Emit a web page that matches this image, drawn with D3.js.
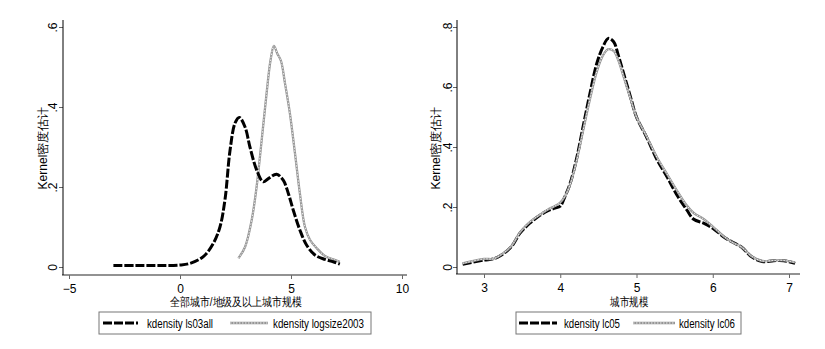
<!DOCTYPE html>
<html><head><meta charset="utf-8">
<script src="https://cdn.jsdelivr.net/npm/d3@7"></script>
<style>body{margin:0;background:#fff}svg{display:block}text{font-family:"Liberation Sans",Arial,sans-serif;fill:#000}</style>
</head><body>
<svg id="c" width="825" height="349"></svg>
<script>
// Left panel data
const leftX_ls03all = [-3.0,-2.0,-1.0,0.0,0.45,1.05,1.5,1.8,2.03,2.25,2.48,2.67,2.93,3.15,3.45,3.75,3.98,4.35,4.65,4.88,5.1,5.4,5.7,6.08,6.53,6.9,7.2];
const leftY_ls03all = [0.004,0.004,0.004,0.005,0.009,0.026,0.059,0.10,0.17,0.29,0.36,0.374,0.35,0.30,0.243,0.213,0.221,0.232,0.217,0.184,0.1425,0.0925,0.055,0.03,0.019,0.013,0.007];
const leftX_logsize2003 = [2.63,2.93,3.23,3.45,3.68,3.9,4.08,4.23,4.38,4.55,4.73,4.95,5.18,5.4,5.63,5.86,6.16,6.53,6.9,7.2];
const leftY_logsize2003 = [0.022,0.05,0.1175,0.2,0.3175,0.434,0.5175,0.553,0.534,0.515,0.459,0.384,0.284,0.184,0.10,0.0675,0.047,0.0275,0.019,0.013];
const leftXTicks = [-5,0,5,10];
const leftYTicks = [0,0.2,0.4,0.6];
const leftYTickLabels = ["0",".2",".4",".6"];
const leftLegend = ["kdensity ls03all","kdensity logsize2003"];
const leftXTitle = "全部城市/地级及以上城市规模";

// Right panel data
const rightX = [2.72,3.0,3.12,3.23,3.36,3.47,3.6,3.72,3.84,3.93,4.0,4.06,4.13,4.22,4.3,4.39,4.48,4.56,4.63,4.7,4.76,4.83,4.92,5.0,5.13,5.27,5.4,5.53,5.66,5.75,5.88,6.0,6.14,6.25,6.38,6.51,6.65,6.8,6.93,7.08];
const rightY_lc05 = [0.009,0.023,0.027,0.04,0.068,0.112,0.146,0.17,0.188,0.196,0.203,0.234,0.279,0.368,0.468,0.579,0.679,0.734,0.762,0.751,0.707,0.646,0.568,0.5,0.434,0.357,0.301,0.24,0.19,0.159,0.146,0.129,0.101,0.084,0.066,0.034,0.018,0.021,0.021,0.012];
const rightY_lc06 = [0.012,0.027,0.027,0.042,0.07,0.115,0.15,0.172,0.192,0.203,0.215,0.235,0.275,0.36,0.455,0.56,0.652,0.705,0.726,0.72,0.69,0.635,0.562,0.5,0.437,0.365,0.31,0.255,0.205,0.18,0.16,0.135,0.103,0.083,0.066,0.036,0.02,0.022,0.022,0.015];
const rightXTicks = [3,4,5,6,7];
const rightYTicks = [0,0.2,0.4,0.6,0.8];
const rightYTickLabels = ["0",".2",".4",".6",".8"];
const rightLegend = ["kdensity lc05","kdensity lc06"];
const rightXTitle = "城市规模";
const yTitle = "Kernel密度估计";

const svg = d3.select("#c");

function drawSeries(g, x, y, xs, ys, kind){
  const line = d3.line().x((d,i)=>x(xs[i])).y(d=>y(d)).curve(d3.curveCatmullRom.alpha(0.5));
  drawPath(g, line(ys), kind);
}
function drawPath(g, d, kind){
  if(kind==="black"){
    g.append("path").attr("d",d).attr("fill","none").attr("stroke","#000").attr("stroke-width",3).attr("stroke-dasharray","9,2");
  } else {
    g.append("path").attr("d",d).attr("fill","none").attr("stroke","#959595").attr("stroke-width",2.3);
    g.append("path").attr("d",d).attr("fill","none").attr("stroke","#ececec").attr("stroke-width",1).attr("stroke-dasharray","1.5,1.5");
  }
}

function panel(o){
  const g = svg.append("g");
  const x = d3.scaleLinear().domain(o.xDom).range(o.xRange);
  const y = d3.scaleLinear().domain(o.yDom).range([267,27]);
  // axes
  const xa = g.append("g").attr("transform",`translate(0,${o.xAxisY})`)
    .call(d3.axisBottom(x).tickValues(o.xTicks).tickSize(4).tickSizeOuter(0).tickFormat(d3.format("d")));
  xa.select(".domain").remove();
  xa.selectAll(".tick line").attr("stroke","#666");
  xa.selectAll(".tick text").attr("font-size",12).attr("dy","0.9em").attr("font-family","Liberation Sans, Arial, sans-serif");
  g.append("line").attr("x1",o.axisX-1).attr("x2",o.xEnd).attr("y1",o.xAxisY).attr("y2",o.xAxisY).attr("stroke","#6e6e6e").attr("stroke-width",1.6);
  const ya = g.append("g").attr("transform",`translate(${o.axisX},0)`)
    .call(d3.axisLeft(y).tickValues(o.yTicks).tickSize(4).tickSizeOuter(0).tickFormat((d,i)=>o.yLabels[i]));
  ya.select(".domain").remove();
  ya.selectAll(".tick line").attr("stroke","#666");
  ya.selectAll(".tick text").attr("font-size",12).attr("x",0).attr("dy",0)
    .attr("text-anchor","middle")
    .attr("transform",`translate(${o.tickOff},0) rotate(-90)`)
    .attr("font-family","Liberation Sans, Arial, sans-serif");
  g.append("line").attr("x1",o.axisX).attr("x2",o.axisX).attr("y1",20).attr("y2",o.xAxisY).attr("stroke","#000").attr("stroke-width",1);
  // y title
  g.append("text").attr("transform",`translate(${o.axisX+o.titleOff},148) rotate(-90)`).attr("text-anchor","middle")
    .attr("font-size",12).attr("textLength",83).attr("lengthAdjust","spacingAndGlyphs").text(yTitle);
  // x title
  g.append("text").attr("x",o.xtitleX).attr("y",306).attr("text-anchor","middle").attr("font-size",12)
    .attr("textLength",o.xtitleW).attr("lengthAdjust","spacingAndGlyphs").text(o.xTitle);
  // series
  o.series.forEach(s=>drawSeries(g,x,y,s.xs,s.ys,s.kind));
  // legend
  g.append("rect").attr("x",o.leg.x).attr("y",312).attr("width",o.leg.w).attr("height",22).attr("fill","#fff").attr("stroke","#777").attr("stroke-width",1);
  o.leg.items.forEach((it,i)=>{
    drawPath(g, `M${it.lx1},323L${it.lx2},323`, i===0?"black":"gray");
    g.append("text").attr("x",it.tx).attr("y",327.5).attr("font-size",12)
      .attr("textLength",it.tw).attr("lengthAdjust","spacingAndGlyphs").text(o.legend[i]);
  });
}

panel({xDom:[-5,10], xRange:[69,402], yDom:[0,0.6], xAxisY:275, axisX:63, xEnd:407, tickOff:-6, titleOff:-16,
  xTicks:leftXTicks, yTicks:leftYTicks, yLabels:leftYTickLabels, xTitle:leftXTitle, xtitleX:236, xtitleW:132,
  series:[{xs:leftX_logsize2003, ys:leftY_logsize2003, kind:"gray"},{xs:leftX_ls03all, ys:leftY_ls03all, kind:"black"}],
  legend:leftLegend,
  leg:{x:99,w:272,items:[{lx1:103,lx2:138,tx:147,tw:66},{lx1:230,lx2:268,tx:273,tw:91}]}});

panel({xDom:[3,7], xRange:[484,789], yDom:[0,0.8], xAxisY:274, axisX:457, xEnd:800, tickOff:-5, titleOff:-17.5,
  xTicks:rightXTicks, yTicks:rightYTicks, yLabels:rightYTickLabels, xTitle:rightXTitle, xtitleX:629, xtitleW:38,
  series:[{xs:rightX, ys:rightY_lc05, kind:"black"},{xs:rightX, ys:rightY_lc06, kind:"gray"}],
  legend:rightLegend,
  leg:{x:516,w:225,items:[{lx1:519,lx2:557,tx:564,tw:56},{lx1:633,lx2:675,tx:679,tw:56}]}});
</script>
</body></html>
